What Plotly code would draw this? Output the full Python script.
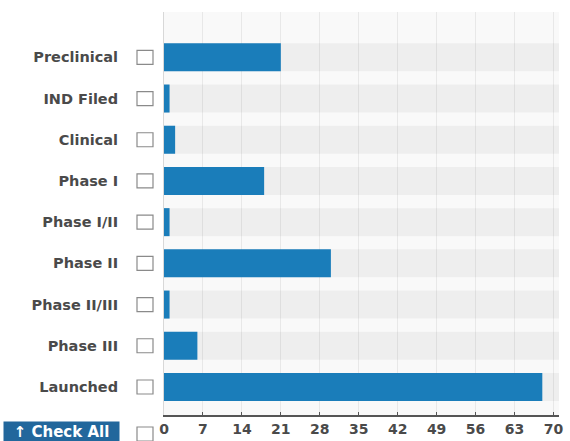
import plotly.graph_objects as go

stages = ["Preclinical", "IND Filed", "Clinical", "Phase I", "Phase I/II",
          "Phase II", "Phase II/III", "Phase III", "Launched"]
counts = [21, 1, 2, 18, 1, 30, 1, 6, 68]
tick_vals = [0, 7, 14, 21, 28, 35, 42, 49, 56, 63, 70]
x_max = 71

BLUE = "#1a7dba"
TRACK = "rgba(0,0,0,0.045)"
FONT = "DejaVu Sans"

fig = go.Figure()
# grey track behind every bar
fig.add_trace(go.Bar(
    y=stages, x=[x_max] * len(stages), orientation="h",
    marker=dict(color=TRACK, line_width=0), width=0.68,
    hoverinfo="skip", showlegend=False,
))
fig.add_trace(go.Bar(
    y=stages, x=counts, orientation="h",
    marker=dict(color=BLUE, line_width=0), width=0.68,
    showlegend=False,
))

# plot area in pixels: left 164, right 559, top 12, bottom 415
pw = 570 - 164 - 11
ph = 441 - 12 - 26
box_x = (145 - 164) / pw

shapes = []
for i, _ in enumerate(stages):
    shapes.append(dict(
        type="rect", xref="paper", yref="y",
        xsizemode="pixel", ysizemode="pixel",
        xanchor=box_x, x0=-8, x1=8,
        yanchor=i, y0=-7, y1=7,
        line=dict(color="#8a8a8a", width=1.2), fillcolor="white",
    ))
shapes.append(dict(
    type="rect", xref="paper", yref="paper",
    xsizemode="pixel", ysizemode="pixel",
    xanchor=box_x, x0=-8, x1=8,
    yanchor=(415 - 434) / ph, y0=-7, y1=7,
    line=dict(color="#8a8a8a", width=1.2), fillcolor="white",
))

fig.update_layout(
    width=570, height=441,
    margin=dict(l=164, r=11, t=12, b=26),
    paper_bgcolor="white", plot_bgcolor="#f9f9f9",
    barmode="overlay", bargap=0.32,
    font=dict(family=FONT, size=13, color="#3a3a3a"),
    shapes=shapes,
    annotations=[dict(
        text="↑ Check All", xref="paper", yref="paper",
        x=(3 - 164) / pw, y=(415 - 421) / ph,
        xanchor="left", yanchor="top", showarrow=False,
        width=115, height=19, borderpad=0, bgcolor="#22679c",
        font=dict(family=FONT, size=15, color="white", weight="bold"),
    )],
)
fig.update_xaxes(
    range=[0, x_max], tickvals=tick_vals, ticks="inside", ticklen=3,
    tickcolor="#555", showline=True, linecolor="#555", linewidth=1.5,
    showgrid=True, gridcolor="#e8e8e8", gridwidth=1, zeroline=False,
    tickfont=dict(family=FONT, size=14, color="#4a4a4a", weight="bold"),
    automargin=False,
)
fig.update_yaxes(
    categoryorder="array", categoryarray=stages,
    range=[8.68, -1.1], showgrid=False, zeroline=False,
    showline=True, linecolor="#d8d8d8", linewidth=1,
    ticks="", ticklabelstandoff=42, automargin=False,
    tickfont=dict(family=FONT, size=14.5, color="#4a4a4a", weight="bold"),
)

# the page body has an 8px default margin; drop it so the figure sits at 0,0
fig.write_html("out.html", config={"displayModeBar": False},
               post_script="document.body.style.margin='0';")
